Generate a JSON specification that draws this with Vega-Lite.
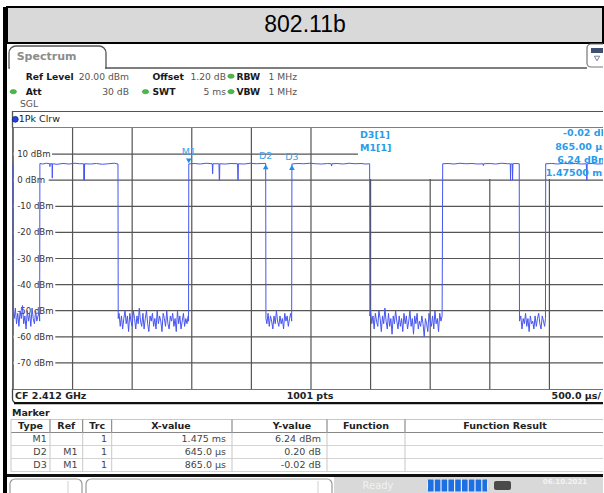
{
"$schema": "https://vega.github.io/schema/vega-lite/v6.json",
"background": "white",
"padding": {"left": 3, "top": 6, "right": 0, "bottom": 0},
"bounds": "flush",
"spacing": 0,
"config": {"view": {"stroke": null}, "axis": {"disable": true}, "font": "DejaVu Sans", "text": {"fontSize": 9.5}, "concat": {"spacing": 0}},
"datasets": {
"trace": [
{"t":0,"v":6.3},{"t":4,"v":-51},
{"t":10,"v":-53},{"t":20,"v":-49},{"t":30,"v":-55},{"t":40,"v":-51},{"t":50,"v":-56},{"t":60,"v":-50},{"t":70,"v":-53},{"t":80,"v":-48},{"t":90,"v":-55},{"t":100,"v":-52},{"t":110,"v":-57},{"t":120,"v":-50},{"t":130,"v":-54},{"t":140,"v":-51},{"t":150,"v":-56},{"t":160,"v":-49},{"t":170,"v":-53},{"t":180,"v":-55},{"t":190,"v":-50},{"t":200,"v":-54},{"t":210,"v":-52},{"t":220,"v":-51},{"t":224,"v":-54},
{"t":226,"v":6.4},{"t":250,"v":6.2},{"t":280,"v":6.5},{"t":308,"v":6.3},{"t":310,"v":5.2},{"t":312,"v":6.3},{"t":328,"v":6.3},{"t":330,"v":0.8},{"t":332,"v":6.3},{"t":370,"v":6.1},{"t":420,"v":6.4},{"t":470,"v":6.2},{"t":520,"v":6.5},{"t":560,"v":6.3},{"t":594,"v":6.3},{"t":596,"v":0.0},{"t":598,"v":6.2},{"t":599,"v":0.1},{"t":601,"v":6.3},{"t":650,"v":6.2},{"t":700,"v":6.4},{"t":750,"v":6.1},{"t":800,"v":6.3},{"t":850,"v":6.5},{"t":881,"v":6.2},
{"t":883,"v":-53},{"t":890,"v":-51},{"t":900,"v":-56},{"t":910,"v":-52},{"t":920,"v":-57},{"t":930,"v":-53},{"t":940,"v":-50},{"t":950,"v":-55},{"t":960,"v":-52},{"t":970,"v":-58},{"t":980,"v":-51},{"t":990,"v":-54},{"t":1000,"v":-56},{"t":1010,"v":-50},{"t":1020,"v":-53},{"t":1030,"v":-57},{"t":1040,"v":-52},{"t":1050,"v":-55},{"t":1060,"v":-49},{"t":1070,"v":-54},{"t":1080,"v":-56},{"t":1090,"v":-51},{"t":1100,"v":-57},{"t":1110,"v":-53},{"t":1120,"v":-50},{"t":1130,"v":-55},{"t":1140,"v":-58},{"t":1150,"v":-52},{"t":1160,"v":-54},{"t":1170,"v":-51},{"t":1180,"v":-56},{"t":1190,"v":-53},{"t":1200,"v":-57},{"t":1210,"v":-50},{"t":1220,"v":-55},{"t":1230,"v":-52},{"t":1240,"v":-54},{"t":1250,"v":-58},{"t":1260,"v":-51},{"t":1270,"v":-53},{"t":1280,"v":-56},{"t":1290,"v":-50},{"t":1300,"v":-55},{"t":1310,"v":-57},{"t":1320,"v":-52},{"t":1330,"v":-54},{"t":1340,"v":-51},{"t":1350,"v":-56},{"t":1360,"v":-53},{"t":1370,"v":-58},{"t":1380,"v":-50},{"t":1390,"v":-55},{"t":1400,"v":-52},{"t":1410,"v":-57},{"t":1420,"v":-54},{"t":1430,"v":-51},{"t":1440,"v":-56},{"t":1450,"v":-53},{"t":1460,"v":-55},{"t":1470,"v":-52},{"t":1473,"v":-54},
{"t":1475,"v":6.24},{"t":1520,"v":6.4},{"t":1570,"v":6.2},{"t":1620,"v":6.5},{"t":1672,"v":6.3},{"t":1675,"v":2.5},{"t":1678,"v":6.3},{"t":1728,"v":6.3},{"t":1731,"v":0.0},{"t":1733,"v":0.1},{"t":1735,"v":6.3},{"t":1780,"v":6.2},{"t":1830,"v":6.4},{"t":1884,"v":6.3},{"t":1887,"v":0.0},{"t":1889,"v":0.1},{"t":1891,"v":6.3},{"t":1940,"v":6.2},{"t":1990,"v":6.5},{"t":2040,"v":6.3},{"t":2090,"v":6.4},{"t":2120,"v":6.44},
{"t":2122,"v":-53},{"t":2130,"v":-55},{"t":2140,"v":-51},{"t":2150,"v":-56},{"t":2160,"v":-52},{"t":2170,"v":-54},{"t":2180,"v":-57},{"t":2190,"v":-52},{"t":2200,"v":-55},{"t":2210,"v":-50},{"t":2220,"v":-54},{"t":2230,"v":-56},{"t":2240,"v":-52},{"t":2250,"v":-55},{"t":2260,"v":-53},{"t":2270,"v":-57},{"t":2280,"v":-51},{"t":2290,"v":-54},{"t":2300,"v":-52},{"t":2310,"v":-56},{"t":2320,"v":-53},{"t":2330,"v":-51},{"t":2338,"v":-54},
{"t":2340,"v":6.22},{"t":2390,"v":6.4},{"t":2440,"v":6.3},{"t":2490,"v":6.5},{"t":2540,"v":6.3},{"t":2590,"v":6.2},{"t":2640,"v":6.4},{"t":2670,"v":6.3},{"t":2673,"v":5.4},{"t":2676,"v":6.3},{"t":2720,"v":6.4},{"t":2770,"v":6.2},{"t":2820,"v":6.5},{"t":2870,"v":6.3},{"t":2920,"v":6.4},{"t":2960,"v":6.2},{"t":2992,"v":6.3},
{"t":2994,"v":-52},{"t":3000,"v":-50},{"t":3010,"v":-55},{"t":3020,"v":-52},{"t":3030,"v":-57},{"t":3040,"v":-51},{"t":3050,"v":-54},{"t":3060,"v":-56},{"t":3070,"v":-50},{"t":3080,"v":-53},{"t":3090,"v":-58},{"t":3100,"v":-52},{"t":3110,"v":-55},{"t":3120,"v":-49},{"t":3130,"v":-54},{"t":3140,"v":-57},{"t":3150,"v":-51},{"t":3160,"v":-56},{"t":3170,"v":-53},{"t":3180,"v":-59},{"t":3190,"v":-52},{"t":3200,"v":-55},{"t":3210,"v":-50},{"t":3220,"v":-54},{"t":3230,"v":-57},{"t":3240,"v":-52},{"t":3250,"v":-56},{"t":3260,"v":-53},{"t":3270,"v":-58},{"t":3280,"v":-51},{"t":3290,"v":-55},{"t":3300,"v":-52},{"t":3310,"v":-57},{"t":3320,"v":-54},{"t":3330,"v":-50},{"t":3340,"v":-56},{"t":3350,"v":-53},{"t":3360,"v":-59},{"t":3370,"v":-52},{"t":3380,"v":-55},{"t":3390,"v":-51},{"t":3400,"v":-57},{"t":3410,"v":-54},{"t":3420,"v":-56},{"t":3430,"v":-52},{"t":3440,"v":-55},{"t":3450,"v":-60},{"t":3460,"v":-53},{"t":3470,"v":-55},{"t":3480,"v":-58},{"t":3490,"v":-51},{"t":3500,"v":-54},{"t":3510,"v":-56},{"t":3520,"v":-52},{"t":3530,"v":-57},{"t":3540,"v":-50},{"t":3550,"v":-55},{"t":3560,"v":-53},{"t":3570,"v":-58},{"t":3580,"v":-51},{"t":3590,"v":-54},{"t":3600,"v":-52},
{"t":3605,"v":6.3},{"t":3650,"v":6.4},{"t":3700,"v":6.2},{"t":3750,"v":6.5},{"t":3800,"v":6.3},{"t":3850,"v":6.4},{"t":3900,"v":6.2},{"t":3943,"v":6.3},{"t":3946,"v":5.6},{"t":3949,"v":6.3},{"t":4000,"v":6.4},{"t":4050,"v":6.2},{"t":4100,"v":6.5},{"t":4150,"v":6.3},{"t":4172,"v":6.3},{"t":4174,"v":0.0},{"t":4177,"v":6.2},{"t":4189,"v":6.3},{"t":4191,"v":0.0},{"t":4194,"v":6.3},{"t":4220,"v":6.4},{"t":4247,"v":6.3},
{"t":4249,"v":-54},{"t":4260,"v":-52},{"t":4270,"v":-57},{"t":4280,"v":-53},{"t":4290,"v":-55},{"t":4300,"v":-51},{"t":4310,"v":-56},{"t":4320,"v":-53},{"t":4330,"v":-58},{"t":4340,"v":-52},{"t":4350,"v":-55},{"t":4360,"v":-54},{"t":4370,"v":-57},{"t":4380,"v":-52},{"t":4390,"v":-56},{"t":4400,"v":-53},{"t":4410,"v":-51},{"t":4420,"v":-55},{"t":4430,"v":-57},{"t":4440,"v":-52},{"t":4450,"v":-54},{"t":4460,"v":-56},{"t":4467,"v":-53},
{"t":4469,"v":6.3},{"t":4520,"v":6.4},{"t":4570,"v":6.2},{"t":4620,"v":6.5},{"t":4670,"v":6.3},{"t":4720,"v":6.4},{"t":4770,"v":6.2},{"t":4810,"v":6.3},{"t":4813,"v":0.0},{"t":4815,"v":0.1},{"t":4817,"v":6.3},{"t":4860,"v":6.4},{"t":4900,"v":6.2},{"t":4950,"v":6.3},{"t":5000,"v":6.3}
],
"levels": [
{"level":10,"label":"10 dBm"},{"level":0,"label":"0 dBm"},{"level":-10,"label":"-10 dBm"},{"level":-20,"label":"-20 dBm"},{"level":-30,"label":"-30 dBm"},{"level":-40,"label":"-40 dBm"},{"level":-50,"label":"-50 dBm"},{"level":-60,"label":"-60 dBm"},{"level":-70,"label":"-70 dBm"}
],
"markers": [
{"name":"M1","t":1475,"v":6.24},{"name":"D2","t":2120,"v":6.44},{"name":"D3","t":2340,"v":6.22}
],
"tbl": [
{"row":"hdr","type":"Type","ref":"Ref","trc":"Trc","xv":"X-value","yv":"Y-value","fn":"Function","fres":"Function Result"},
{"row":"M1","type":"M1","ref":"","trc":"1","xv":"1.475 ms","yv":"6.24 dBm","fn":"","fres":""},
{"row":"D2","type":"D2","ref":"M1","trc":"1","xv":"645.0 µs","yv":"0.20 dB","fn":"","fres":""},
{"row":"D3","type":"D3","ref":"M1","trc":"1","xv":"865.0 µs","yv":"-0.02 dB","fn":"","fres":""}
]
},
"hconcat": [
{"width": 4, "height": 487, "view": {"fill": "#000"}, "data": {"values": [{}]}, "mark": {"type": "text", "text": ""}},
{"spacing": 0, "bounds": "flush", "vconcat": [
{"width": 596, "height": 36, "view": {"fill": "#d9d9d9", "stroke": "#000", "strokeWidth": 2},
 "data": {"values": [{"title": "802.11b"}]},
 "mark": {"type": "text", "font": "Liberation Sans", "fontSize": 23, "fill": "#000"},
 "encoding": {"text": {"field": "title"}}},
{"width": 596, "height": 68, "data": {"values": [{}]}, "layer": [
 {"mark": {"type": "rect", "fill": "#fff", "stroke": "#555", "strokeWidth": 1.3, "cornerRadiusTopLeft": 7, "cornerRadiusTopRight": 7},
  "encoding": {"x": {"datum": 9, "type": "quantitative", "scale": {"domain": [7, 603], "zero": false, "nice": false}}, "x2": {"datum": 106},
   "y": {"datum": 45, "type": "quantitative", "scale": {"domain": [110, 42], "zero": false, "nice": false}}, "y2": {"datum": 67}}},
 {"mark": {"type": "rule", "stroke": "#fff", "strokeWidth": 2.5},
  "encoding": {"x": {"datum": 9.9, "type": "quantitative", "scale": {"domain": [7, 603], "zero": false, "nice": false}}, "x2": {"datum": 105.1},
   "y": {"datum": 67, "type": "quantitative", "scale": {"domain": [110, 42], "zero": false, "nice": false}}}},
 {"mark": {"type": "rule", "stroke": "#555", "strokeWidth": 1.3},
  "encoding": {"x": {"datum": 105.4, "type": "quantitative", "scale": {"domain": [7, 603], "zero": false, "nice": false}}, "x2": {"datum": 587},
   "y": {"datum": 67, "type": "quantitative", "scale": {"domain": [110, 42], "zero": false, "nice": false}}}},
 {"mark": {"type": "rect", "fill": "#fff", "stroke": "#777", "strokeWidth": 1.2, "cornerRadius": 4, "clip": true},
  "encoding": {"x": {"datum": 587, "type": "quantitative", "scale": {"domain": [7, 603], "zero": false, "nice": false}}, "x2": {"datum": 612},
   "y": {"datum": 43, "type": "quantitative", "scale": {"domain": [110, 42], "zero": false, "nice": false}}, "y2": {"datum": 66}}},
 {"mark": {"type": "rect", "fill": "#3f5070", "clip": true},
  "encoding": {"x": {"datum": 591, "type": "quantitative", "scale": {"domain": [7, 603], "zero": false, "nice": false}}, "x2": {"datum": 605},
   "y": {"datum": 47, "type": "quantitative", "scale": {"domain": [110, 42], "zero": false, "nice": false}}, "y2": {"datum": 52}}},
 {"mark": {"type": "point", "shape": "triangle-down", "filled": false, "stroke": "#3f5070", "strokeWidth": 1, "size": 28},
  "encoding": {"x": {"datum": 597, "type": "quantitative", "scale": {"domain": [7, 603], "zero": false, "nice": false}},
   "y": {"datum": 57.5, "type": "quantitative", "scale": {"domain": [110, 42], "zero": false, "nice": false}}}},
 {"mark": {"type": "text", "text": "Spectrum", "align": "left", "baseline": "alphabetic", "fontSize": 11, "fontWeight": "bold", "fill": "#8c8c8c"},
  "encoding": {"x": {"datum": 16.7, "type": "quantitative", "scale": {"domain": [7, 603], "zero": false, "nice": false}},
   "y": {"datum": 59, "type": "quantitative", "scale": {"domain": [110, 42], "zero": false, "nice": false}}}},
 {"mark": {"type": "text", "text": ["Ref Level", "Att"], "align": "left", "baseline": "alphabetic", "lineHeight": 15.5, "fontSize": 9.2, "fontWeight": "bold", "fill": "#1a1a1a"},
  "encoding": {"x": {"datum": 25.7, "type": "quantitative", "scale": {"domain": [7, 603], "zero": false, "nice": false}},
   "y": {"datum": 78.5, "type": "quantitative", "scale": {"domain": [110, 42], "zero": false, "nice": false}}}},
 {"mark": {"type": "text", "text": ["20.00 dBm", "30 dB"], "align": "right", "baseline": "alphabetic", "lineHeight": 15.5, "fontSize": 9.2, "fill": "#555"},
  "encoding": {"x": {"datum": 129, "type": "quantitative", "scale": {"domain": [7, 603], "zero": false, "nice": false}},
   "y": {"datum": 78.5, "type": "quantitative", "scale": {"domain": [110, 42], "zero": false, "nice": false}}}},
 {"mark": {"type": "text", "text": ["Offset", "SWT"], "align": "left", "baseline": "alphabetic", "lineHeight": 15.5, "fontSize": 9.2, "fontWeight": "bold", "fill": "#1a1a1a"},
  "encoding": {"x": {"datum": 152.5, "type": "quantitative", "scale": {"domain": [7, 603], "zero": false, "nice": false}},
   "y": {"datum": 78.5, "type": "quantitative", "scale": {"domain": [110, 42], "zero": false, "nice": false}}}},
 {"mark": {"type": "text", "text": ["1.20 dB", "5 ms"], "align": "right", "baseline": "alphabetic", "lineHeight": 15.5, "fontSize": 9.2, "fill": "#555"},
  "encoding": {"x": {"datum": 226, "type": "quantitative", "scale": {"domain": [7, 603], "zero": false, "nice": false}},
   "y": {"datum": 78.5, "type": "quantitative", "scale": {"domain": [110, 42], "zero": false, "nice": false}}}},
 {"mark": {"type": "text", "text": ["RBW", "VBW"], "align": "left", "baseline": "alphabetic", "lineHeight": 15.5, "fontSize": 9.2, "fontWeight": "bold", "fill": "#1a1a1a"},
  "encoding": {"x": {"datum": 236.5, "type": "quantitative", "scale": {"domain": [7, 603], "zero": false, "nice": false}},
   "y": {"datum": 78.5, "type": "quantitative", "scale": {"domain": [110, 42], "zero": false, "nice": false}}}},
 {"mark": {"type": "text", "text": ["1 MHz", "1 MHz"], "align": "right", "baseline": "alphabetic", "lineHeight": 15.5, "fontSize": 9.2, "fill": "#555"},
  "encoding": {"x": {"datum": 297, "type": "quantitative", "scale": {"domain": [7, 603], "zero": false, "nice": false}},
   "y": {"datum": 78.5, "type": "quantitative", "scale": {"domain": [110, 42], "zero": false, "nice": false}}}},
 {"mark": {"type": "text", "text": "SGL", "align": "left", "baseline": "alphabetic", "fontSize": 9.2, "fill": "#555"},
  "encoding": {"x": {"datum": 20, "type": "quantitative", "scale": {"domain": [7, 603], "zero": false, "nice": false}},
   "y": {"datum": 106, "type": "quantitative", "scale": {"domain": [110, 42], "zero": false, "nice": false}}}},
 {"mark": {"type": "point", "shape": "M-1,0A1,0.65,0,1,1,1,0A1,0.65,0,1,1,-1,0Z", "filled": true, "fill": "#4cb84c", "stroke": "#2e8a2e", "strokeWidth": 0.5, "size": 42, "opacity": 1},
  "encoding": {"x": {"datum": 13.3, "type": "quantitative", "scale": {"domain": [7, 603], "zero": false, "nice": false}},
   "y": {"datum": 90.7, "type": "quantitative", "scale": {"domain": [110, 42], "zero": false, "nice": false}}}},
 {"mark": {"type": "point", "shape": "M-1,0A1,0.65,0,1,1,1,0A1,0.65,0,1,1,-1,0Z", "filled": true, "fill": "#4cb84c", "stroke": "#2e8a2e", "strokeWidth": 0.5, "size": 42, "opacity": 1},
  "encoding": {"x": {"datum": 145.5, "type": "quantitative", "scale": {"domain": [7, 603], "zero": false, "nice": false}},
   "y": {"datum": 90.7, "type": "quantitative", "scale": {"domain": [110, 42], "zero": false, "nice": false}}}},
 {"mark": {"type": "point", "shape": "M-1,0A1,0.65,0,1,1,1,0A1,0.65,0,1,1,-1,0Z", "filled": true, "fill": "#4cb84c", "stroke": "#2e8a2e", "strokeWidth": 0.5, "size": 42, "opacity": 1},
  "encoding": {"x": {"datum": 231, "type": "quantitative", "scale": {"domain": [7, 603], "zero": false, "nice": false}},
   "y": {"datum": 75.2, "type": "quantitative", "scale": {"domain": [110, 42], "zero": false, "nice": false}}}},
 {"mark": {"type": "point", "shape": "M-1,0A1,0.65,0,1,1,1,0A1,0.65,0,1,1,-1,0Z", "filled": true, "fill": "#4cb84c", "stroke": "#2e8a2e", "strokeWidth": 0.5, "size": 42, "opacity": 1},
  "encoding": {"x": {"datum": 231, "type": "quantitative", "scale": {"domain": [7, 603], "zero": false, "nice": false}},
   "y": {"datum": 90.7, "type": "quantitative", "scale": {"domain": [110, 42], "zero": false, "nice": false}}}}
]},
{"width": 596, "height": 17, "data": {"values": [{}]}, "layer": [
 {"mark": {"type": "rect", "fill": "#fff", "stroke": "#555", "strokeWidth": 1.3, "clip": true},
  "encoding": {"x": {"datum": 12.5, "type": "quantitative", "scale": {"domain": [7, 603], "zero": false, "nice": false}}, "x2": {"datum": 612},
   "y": {"datum": 110.3, "type": "quantitative", "scale": {"domain": [127, 110], "zero": false, "nice": false}}, "y2": {"datum": 127}}},
 {"mark": {"type": "point", "shape": "circle", "filled": true, "fill": "#2840e0", "stroke": "#10208a", "strokeWidth": 0.8, "size": 34, "opacity": 1},
  "encoding": {"x": {"datum": 15.3, "type": "quantitative", "scale": {"domain": [7, 603], "zero": false, "nice": false}},
   "y": {"datum": 118.3, "type": "quantitative", "scale": {"domain": [127, 110], "zero": false, "nice": false}}}},
 {"mark": {"type": "text", "text": "1Pk Clrw", "align": "left", "baseline": "middle", "fill": "#222"},
  "encoding": {"x": {"datum": 18.8, "type": "quantitative", "scale": {"domain": [7, 603], "zero": false, "nice": false}},
   "y": {"datum": 118.3, "type": "quantitative", "scale": {"domain": [127, 110], "zero": false, "nice": false}}}}
]},
{"width": 596, "height": 261, "layer": [
 {"data": {"values": [{"t":0},{"t":500},{"t":1000},{"t":1500},{"t":2000},{"t":2500},{"t":3000},{"t":3500},{"t":4000},{"t":4500}]},
  "mark": {"type": "rule", "stroke": "#555", "strokeWidth": 1.2},
  "encoding": {"x": {"field": "t", "type": "quantitative", "scale": {"domain": [-50, 4949.6], "zero": false, "nice": false}, "axis": null}}},
 {"data": {"name": "levels"},
  "mark": {"type": "rule", "stroke": "#555", "strokeWidth": 1.2},
  "encoding": {"x": {"datum": 0, "type": "quantitative", "scale": {"domain": [-50, 4949.6], "zero": false, "nice": false}}, "x2": {"datum": 4949.6},
   "y": {"field": "level", "type": "quantitative", "scale": {"domain": [-80, 20], "zero": false, "nice": false}, "axis": null}}},
 {"data": {"values": [{}]},
  "mark": {"type": "rect", "fill": "#fff"},
  "encoding": {"x": {"datum": 2894, "type": "quantitative", "scale": {"domain": [-50, 4949.6], "zero": false, "nice": false}}, "x2": {"datum": 4949.6},
   "y": {"datum": 20, "type": "quantitative", "scale": {"domain": [-80, 20], "zero": false, "nice": false}}, "y2": {"datum": 0.5}}},
 {"data": {"name": "levels"}, "transform": [{"filter": "datum.level === 10"}],
  "mark": {"type": "rule", "stroke": "#fff", "strokeWidth": 3},
  "encoding": {"x": {"datum": 0, "type": "quantitative", "scale": {"domain": [-50, 4949.6], "zero": false, "nice": false}}, "x2": {"datum": 328},
   "y": {"field": "level", "type": "quantitative", "scale": {"domain": [-80, 20], "zero": false, "nice": false}}}},
 {"data": {"name": "levels"}, "transform": [{"filter": "datum.level === 0"}],
  "mark": {"type": "rule", "stroke": "#fff", "strokeWidth": 3},
  "encoding": {"x": {"datum": 0, "type": "quantitative", "scale": {"domain": [-50, 4949.6], "zero": false, "nice": false}}, "x2": {"datum": 300},
   "y": {"field": "level", "type": "quantitative", "scale": {"domain": [-80, 20], "zero": false, "nice": false}}}},
 {"data": {"name": "levels"}, "transform": [{"filter": "datum.level < 0"}],
  "mark": {"type": "rule", "stroke": "#fff", "strokeWidth": 3},
  "encoding": {"x": {"datum": 0, "type": "quantitative", "scale": {"domain": [-50, 4949.6], "zero": false, "nice": false}}, "x2": {"datum": 355},
   "y": {"field": "level", "type": "quantitative", "scale": {"domain": [-80, 20], "zero": false, "nice": false}}}},
 {"data": {"values": [{"t":0}]},
  "mark": {"type": "rule", "stroke": "#555", "strokeWidth": 1.2},
  "encoding": {"x": {"field": "t", "type": "quantitative", "scale": {"domain": [-50, 4949.6], "zero": false, "nice": false}}}},
 {"data": {"name": "levels"},
  "mark": {"type": "text", "align": "left", "baseline": "middle", "fontSize": 8.6, "fill": "#333"},
  "encoding": {"x": {"datum": 35, "type": "quantitative", "scale": {"domain": [-50, 4949.6], "zero": false, "nice": false}},
   "y": {"field": "level", "type": "quantitative", "scale": {"domain": [-80, 20], "zero": false, "nice": false}}, "text": {"field": "label"}}},
 {"data": {"name": "trace"},
  "mark": {"type": "line", "stroke": "#4756f0", "strokeWidth": 1, "clip": true},
  "encoding": {"x": {"field": "t", "type": "quantitative", "scale": {"domain": [-50, 4949.6], "zero": false, "nice": false}},
   "y": {"field": "v", "type": "quantitative", "scale": {"domain": [-80, 20], "zero": false, "nice": false}}}},
 {"data": {"name": "markers"}, "transform": [{"filter": "datum.name === 'M1'"}],
  "mark": {"type": "point", "shape": "triangle-down", "filled": true, "color": "#1e8ee6", "size": 32, "opacity": 1, "yOffset": -3},
  "encoding": {"x": {"field": "t", "type": "quantitative", "scale": {"domain": [-50, 4949.6], "zero": false, "nice": false}},
   "y": {"field": "v", "type": "quantitative", "scale": {"domain": [-80, 20], "zero": false, "nice": false}}}},
 {"data": {"name": "markers"}, "transform": [{"filter": "datum.name !== 'M1'"}],
  "mark": {"type": "point", "shape": "triangle-up", "filled": true, "color": "#1e8ee6", "size": 32, "opacity": 1, "yOffset": 3.5},
  "encoding": {"x": {"field": "t", "type": "quantitative", "scale": {"domain": [-50, 4949.6], "zero": false, "nice": false}},
   "y": {"field": "v", "type": "quantitative", "scale": {"domain": [-80, 20], "zero": false, "nice": false}}}},
 {"data": {"name": "markers"}, "transform": [{"filter": "datum.name === 'M1'"}],
  "mark": {"type": "text", "fontSize": 9.5, "fill": "#3aa3ea", "yOffset": -12},
  "encoding": {"x": {"field": "t", "type": "quantitative", "scale": {"domain": [-50, 4949.6], "zero": false, "nice": false}},
   "y": {"field": "v", "type": "quantitative", "scale": {"domain": [-80, 20], "zero": false, "nice": false}}, "text": {"field": "name"}}},
 {"data": {"name": "markers"}, "transform": [{"filter": "datum.name !== 'M1'"}],
  "mark": {"type": "text", "fontSize": 9.5, "fill": "#3aa3ea", "yOffset": -7},
  "encoding": {"x": {"field": "t", "type": "quantitative", "scale": {"domain": [-50, 4949.6], "zero": false, "nice": false}},
   "y": {"field": "v", "type": "quantitative", "scale": {"domain": [-80, 20], "zero": false, "nice": false}}, "text": {"field": "name"}}},
 {"data": {"values": [{"s": ["D3[1]", "", "M1[1]"]}]},
  "mark": {"type": "text", "align": "left", "baseline": "alphabetic", "lineHeight": 13.1, "fontWeight": "bold", "fill": "#2a9bea"},
  "encoding": {"x": {"datum": 2911, "type": "quantitative", "scale": {"domain": [-50, 4949.6], "zero": false, "nice": false}},
   "y": {"datum": 16.2, "type": "quantitative", "scale": {"domain": [-80, 20], "zero": false, "nice": false}}, "text": {"field": "s"}}},
 {"data": {"values": [{"s": ["-0.02 dB", "865.00 µs", "6.24 dBm", "1.47500 ms"]}]},
  "mark": {"type": "text", "align": "right", "baseline": "alphabetic", "lineHeight": 13.33, "fontWeight": "bold", "fill": "#2a9bea", "clip": true},
  "encoding": {"x": {"datum": 4990, "type": "quantitative", "scale": {"domain": [-50, 4949.6], "zero": false, "nice": false}},
   "y": {"datum": 16.82, "type": "quantitative", "scale": {"domain": [-80, 20], "zero": false, "nice": false}}, "text": {"field": "s"}}}
]},
{"width": 596, "height": 15, "data": {"values": [{}]}, "layer": [
 {"mark": {"type": "rect", "fill": "#fff", "stroke": "#444", "strokeWidth": 1.3, "cornerRadiusBottomLeft": 4, "clip": true},
  "encoding": {"x": {"datum": 12.5, "type": "quantitative", "scale": {"domain": [7, 603], "zero": false, "nice": false}}, "x2": {"datum": 612},
   "y": {"datum": 388, "type": "quantitative", "scale": {"domain": [403, 388], "zero": false, "nice": false}}, "y2": {"datum": 402}}},
 {"mark": {"type": "rule", "stroke": "#111", "strokeWidth": 2.2},
  "encoding": {"x": {"datum": 14, "type": "quantitative", "scale": {"domain": [7, 603], "zero": false, "nice": false}}, "x2": {"datum": 603},
   "y": {"datum": 402.2, "type": "quantitative", "scale": {"domain": [403, 388], "zero": false, "nice": false}}}},
 {"mark": {"type": "text", "text": "CF 2.412 GHz", "align": "left", "baseline": "middle", "fontWeight": "bold", "fill": "#222"},
  "encoding": {"x": {"datum": 15, "type": "quantitative", "scale": {"domain": [7, 603], "zero": false, "nice": false}},
   "y": {"datum": 395.3, "type": "quantitative", "scale": {"domain": [403, 388], "zero": false, "nice": false}}}},
 {"mark": {"type": "text", "text": "1001 pts", "align": "center", "baseline": "middle", "fontWeight": "bold", "fill": "#222"},
  "encoding": {"x": {"datum": 310, "type": "quantitative", "scale": {"domain": [7, 603], "zero": false, "nice": false}},
   "y": {"datum": 395.3, "type": "quantitative", "scale": {"domain": [403, 388], "zero": false, "nice": false}}}},
 {"mark": {"type": "text", "text": "500.0 µs/", "align": "right", "baseline": "middle", "fontWeight": "bold", "fill": "#222"},
  "encoding": {"x": {"datum": 601, "type": "quantitative", "scale": {"domain": [7, 603], "zero": false, "nice": false}},
   "y": {"datum": 395.3, "type": "quantitative", "scale": {"domain": [403, 388], "zero": false, "nice": false}}}}
]},
{"width": 596, "height": 70, "layer": [
 {"data": {"values": [{}]},
  "mark": {"type": "text", "text": "Marker", "align": "left", "baseline": "middle", "fontWeight": "bold", "fill": "#222"},
  "encoding": {"x": {"datum": 12, "type": "quantitative", "scale": {"domain": [7, 603], "zero": false, "nice": false}},
   "y": {"datum": "ttl", "type": "nominal", "scale": {"type": "band", "domain": ["ttl", "hdr", "M1", "D2", "D3"], "range": [2.5, 67.5], "paddingInner": 0, "paddingOuter": 0}}}},
 {"data": {"values": [{}]},
  "mark": {"type": "rule", "stroke": "#c8c8c8"},
  "encoding": {"x": {"datum": 11, "type": "quantitative", "scale": {"domain": [7, 603], "zero": false, "nice": false}}, "x2": {"datum": 603},
   "y": {"datum": "hdr", "type": "nominal", "bandPosition": 0, "scale": {"type": "band", "domain": ["ttl", "hdr", "M1", "D2", "D3"], "range": [2.5, 67.5], "paddingInner": 0, "paddingOuter": 0}}}},
 {"data": {"name": "tbl"},
  "mark": {"type": "rule"},
  "encoding": {"x": {"datum": 11, "type": "quantitative", "scale": {"domain": [7, 603], "zero": false, "nice": false}}, "x2": {"datum": 603},
   "y": {"field": "row", "type": "nominal", "bandPosition": 1, "scale": {"type": "band", "domain": ["ttl", "hdr", "M1", "D2", "D3"], "range": [2.5, 67.5], "paddingInner": 0, "paddingOuter": 0}},
   "color": {"condition": {"test": "datum.row === 'hdr'", "value": "#888"}, "value": "#d4d4d4"}}},
 {"data": {"name": "tbl"}, "mark": {"type": "rect"},
  "encoding": {"x": {"datum": 10.5, "type": "quantitative", "scale": {"domain": [7, 603], "zero": false, "nice": false}}, "x2": {"datum": 11.5},
   "y": {"field": "row", "type": "nominal", "scale": {"type": "band", "domain": ["ttl", "hdr", "M1", "D2", "D3"], "range": [2.5, 67.5], "paddingInner": 0, "paddingOuter": 0}},
   "color": {"value": "#c8c8c8"}}},
 {"data": {"name": "tbl"}, "mark": {"type": "rect"},
  "encoding": {"x": {"datum": 49.5, "type": "quantitative", "scale": {"domain": [7, 603], "zero": false, "nice": false}}, "x2": {"datum": 50.5},
   "y": {"field": "row", "type": "nominal", "scale": {"type": "band", "domain": ["ttl", "hdr", "M1", "D2", "D3"], "range": [2.5, 67.5], "paddingInner": 0, "paddingOuter": 0}},
   "color": {"condition": {"test": "datum.row === 'hdr'", "value": "#777"}, "value": "#c8c8c8"}}},
 {"data": {"name": "tbl"}, "mark": {"type": "rect"},
  "encoding": {"x": {"datum": 82.2, "type": "quantitative", "scale": {"domain": [7, 603], "zero": false, "nice": false}}, "x2": {"datum": 83.2},
   "y": {"field": "row", "type": "nominal", "scale": {"type": "band", "domain": ["ttl", "hdr", "M1", "D2", "D3"], "range": [2.5, 67.5], "paddingInner": 0, "paddingOuter": 0}},
   "color": {"condition": {"test": "datum.row === 'hdr'", "value": "#777"}, "value": "#c8c8c8"}}},
 {"data": {"name": "tbl"}, "mark": {"type": "rect"},
  "encoding": {"x": {"datum": 111.2, "type": "quantitative", "scale": {"domain": [7, 603], "zero": false, "nice": false}}, "x2": {"datum": 112.2},
   "y": {"field": "row", "type": "nominal", "scale": {"type": "band", "domain": ["ttl", "hdr", "M1", "D2", "D3"], "range": [2.5, 67.5], "paddingInner": 0, "paddingOuter": 0}},
   "color": {"condition": {"test": "datum.row === 'hdr'", "value": "#777"}, "value": "#c8c8c8"}}},
 {"data": {"name": "tbl"}, "mark": {"type": "rect"},
  "encoding": {"x": {"datum": 231.5, "type": "quantitative", "scale": {"domain": [7, 603], "zero": false, "nice": false}}, "x2": {"datum": 232.5},
   "y": {"field": "row", "type": "nominal", "scale": {"type": "band", "domain": ["ttl", "hdr", "M1", "D2", "D3"], "range": [2.5, 67.5], "paddingInner": 0, "paddingOuter": 0}},
   "color": {"condition": {"test": "datum.row === 'hdr'", "value": "#777"}, "value": "#c8c8c8"}}},
 {"data": {"name": "tbl"}, "mark": {"type": "rect"},
  "encoding": {"x": {"datum": 326.5, "type": "quantitative", "scale": {"domain": [7, 603], "zero": false, "nice": false}}, "x2": {"datum": 327.5},
   "y": {"field": "row", "type": "nominal", "scale": {"type": "band", "domain": ["ttl", "hdr", "M1", "D2", "D3"], "range": [2.5, 67.5], "paddingInner": 0, "paddingOuter": 0}},
   "color": {"condition": {"test": "datum.row === 'hdr'", "value": "#777"}, "value": "#c8c8c8"}}},
 {"data": {"name": "tbl"}, "mark": {"type": "rect"},
  "encoding": {"x": {"datum": 404.5, "type": "quantitative", "scale": {"domain": [7, 603], "zero": false, "nice": false}}, "x2": {"datum": 405.5},
   "y": {"field": "row", "type": "nominal", "scale": {"type": "band", "domain": ["ttl", "hdr", "M1", "D2", "D3"], "range": [2.5, 67.5], "paddingInner": 0, "paddingOuter": 0}},
   "color": {"condition": {"test": "datum.row === 'hdr'", "value": "#777"}, "value": "#c8c8c8"}}},
 {"data": {"name": "tbl"}, "transform": [{"filter": "datum.row === 'hdr'"}],
  "mark": {"type": "text", "align": "center", "baseline": "middle", "fontWeight": "bold", "fill": "#222"},
  "encoding": {"x": {"datum": 30.5, "type": "quantitative", "scale": {"domain": [7, 603], "zero": false, "nice": false}},
   "y": {"field": "row", "type": "nominal", "scale": {"type": "band", "domain": ["ttl", "hdr", "M1", "D2", "D3"], "range": [2.5, 67.5], "paddingInner": 0, "paddingOuter": 0}}, "text": {"field": "type"}}},
 {"data": {"name": "tbl"}, "transform": [{"filter": "datum.row === 'hdr'"}],
  "mark": {"type": "text", "align": "center", "baseline": "middle", "fontWeight": "bold", "fill": "#222"},
  "encoding": {"x": {"datum": 66.3, "type": "quantitative", "scale": {"domain": [7, 603], "zero": false, "nice": false}},
   "y": {"field": "row", "type": "nominal", "scale": {"type": "band", "domain": ["ttl", "hdr", "M1", "D2", "D3"], "range": [2.5, 67.5], "paddingInner": 0, "paddingOuter": 0}}, "text": {"field": "ref"}}},
 {"data": {"name": "tbl"}, "transform": [{"filter": "datum.row === 'hdr'"}],
  "mark": {"type": "text", "align": "center", "baseline": "middle", "fontWeight": "bold", "fill": "#222"},
  "encoding": {"x": {"datum": 97.2, "type": "quantitative", "scale": {"domain": [7, 603], "zero": false, "nice": false}},
   "y": {"field": "row", "type": "nominal", "scale": {"type": "band", "domain": ["ttl", "hdr", "M1", "D2", "D3"], "range": [2.5, 67.5], "paddingInner": 0, "paddingOuter": 0}}, "text": {"field": "trc"}}},
 {"data": {"name": "tbl"}, "transform": [{"filter": "datum.row === 'hdr'"}],
  "mark": {"type": "text", "align": "center", "baseline": "middle", "fontWeight": "bold", "fill": "#222"},
  "encoding": {"x": {"datum": 171, "type": "quantitative", "scale": {"domain": [7, 603], "zero": false, "nice": false}},
   "y": {"field": "row", "type": "nominal", "scale": {"type": "band", "domain": ["ttl", "hdr", "M1", "D2", "D3"], "range": [2.5, 67.5], "paddingInner": 0, "paddingOuter": 0}}, "text": {"field": "xv"}}},
 {"data": {"name": "tbl"}, "transform": [{"filter": "datum.row === 'hdr'"}],
  "mark": {"type": "text", "align": "center", "baseline": "middle", "fontWeight": "bold", "fill": "#222"},
  "encoding": {"x": {"datum": 292, "type": "quantitative", "scale": {"domain": [7, 603], "zero": false, "nice": false}},
   "y": {"field": "row", "type": "nominal", "scale": {"type": "band", "domain": ["ttl", "hdr", "M1", "D2", "D3"], "range": [2.5, 67.5], "paddingInner": 0, "paddingOuter": 0}}, "text": {"field": "yv"}}},
 {"data": {"name": "tbl"}, "transform": [{"filter": "datum.row === 'hdr'"}],
  "mark": {"type": "text", "align": "center", "baseline": "middle", "fontWeight": "bold", "fill": "#222"},
  "encoding": {"x": {"datum": 366, "type": "quantitative", "scale": {"domain": [7, 603], "zero": false, "nice": false}},
   "y": {"field": "row", "type": "nominal", "scale": {"type": "band", "domain": ["ttl", "hdr", "M1", "D2", "D3"], "range": [2.5, 67.5], "paddingInner": 0, "paddingOuter": 0}}, "text": {"field": "fn"}}},
 {"data": {"name": "tbl"}, "transform": [{"filter": "datum.row === 'hdr'"}],
  "mark": {"type": "text", "align": "center", "baseline": "middle", "fontWeight": "bold", "fill": "#222"},
  "encoding": {"x": {"datum": 505, "type": "quantitative", "scale": {"domain": [7, 603], "zero": false, "nice": false}},
   "y": {"field": "row", "type": "nominal", "scale": {"type": "band", "domain": ["ttl", "hdr", "M1", "D2", "D3"], "range": [2.5, 67.5], "paddingInner": 0, "paddingOuter": 0}}, "text": {"field": "fres"}}},
 {"data": {"name": "tbl"}, "transform": [{"filter": "datum.row !== 'hdr'"}],
  "mark": {"type": "text", "align": "right", "baseline": "middle", "fill": "#444"},
  "encoding": {"x": {"datum": 46.7, "type": "quantitative", "scale": {"domain": [7, 603], "zero": false, "nice": false}},
   "y": {"field": "row", "type": "nominal", "scale": {"type": "band", "domain": ["ttl", "hdr", "M1", "D2", "D3"], "range": [2.5, 67.5], "paddingInner": 0, "paddingOuter": 0}}, "text": {"field": "type"}}},
 {"data": {"name": "tbl"}, "transform": [{"filter": "datum.row !== 'hdr'"}],
  "mark": {"type": "text", "align": "right", "baseline": "middle", "fill": "#444"},
  "encoding": {"x": {"datum": 77.5, "type": "quantitative", "scale": {"domain": [7, 603], "zero": false, "nice": false}},
   "y": {"field": "row", "type": "nominal", "scale": {"type": "band", "domain": ["ttl", "hdr", "M1", "D2", "D3"], "range": [2.5, 67.5], "paddingInner": 0, "paddingOuter": 0}}, "text": {"field": "ref"}}},
 {"data": {"name": "tbl"}, "transform": [{"filter": "datum.row !== 'hdr'"}],
  "mark": {"type": "text", "align": "right", "baseline": "middle", "fill": "#444"},
  "encoding": {"x": {"datum": 107, "type": "quantitative", "scale": {"domain": [7, 603], "zero": false, "nice": false}},
   "y": {"field": "row", "type": "nominal", "scale": {"type": "band", "domain": ["ttl", "hdr", "M1", "D2", "D3"], "range": [2.5, 67.5], "paddingInner": 0, "paddingOuter": 0}}, "text": {"field": "trc"}}},
 {"data": {"name": "tbl"}, "transform": [{"filter": "datum.row !== 'hdr'"}],
  "mark": {"type": "text", "align": "right", "baseline": "middle", "fill": "#444"},
  "encoding": {"x": {"datum": 226, "type": "quantitative", "scale": {"domain": [7, 603], "zero": false, "nice": false}},
   "y": {"field": "row", "type": "nominal", "scale": {"type": "band", "domain": ["ttl", "hdr", "M1", "D2", "D3"], "range": [2.5, 67.5], "paddingInner": 0, "paddingOuter": 0}}, "text": {"field": "xv"}}},
 {"data": {"name": "tbl"}, "transform": [{"filter": "datum.row !== 'hdr'"}],
  "mark": {"type": "text", "align": "right", "baseline": "middle", "fill": "#444"},
  "encoding": {"x": {"datum": 321, "type": "quantitative", "scale": {"domain": [7, 603], "zero": false, "nice": false}},
   "y": {"field": "row", "type": "nominal", "scale": {"type": "band", "domain": ["ttl", "hdr", "M1", "D2", "D3"], "range": [2.5, 67.5], "paddingInner": 0, "paddingOuter": 0}}, "text": {"field": "yv"}}}
]},
{"width": 596, "height": 20, "data": {"values": [{}]}, "layer": [
 {"mark": {"type": "rect", "fill": "#111"},
  "encoding": {"x": {"datum": 7, "type": "quantitative", "scale": {"domain": [7, 603], "zero": false, "nice": false}}, "x2": {"datum": 603},
   "y": {"datum": 473, "type": "quantitative", "scale": {"domain": [493, 473], "zero": false, "nice": false}}, "y2": {"datum": 476}}},
 {"mark": {"type": "rect", "fill": "#d9d9d9"},
  "encoding": {"x": {"datum": 334, "type": "quantitative", "scale": {"domain": [7, 603], "zero": false, "nice": false}}, "x2": {"datum": 603},
   "y": {"datum": 476, "type": "quantitative", "scale": {"domain": [493, 473], "zero": false, "nice": false}}, "y2": {"datum": 493}}},
 {"mark": {"type": "rect", "fill": "#fff", "stroke": "#9a9a9a", "strokeWidth": 1.2, "cornerRadius": 5, "clip": true},
  "encoding": {"x": {"datum": 10, "type": "quantitative", "scale": {"domain": [7, 603], "zero": false, "nice": false}}, "x2": {"datum": 82},
   "y": {"datum": 478, "type": "quantitative", "scale": {"domain": [493, 473], "zero": false, "nice": false}}, "y2": {"datum": 500}}},
 {"mark": {"type": "rule", "stroke": "#d0d0d0"},
  "encoding": {"x": {"datum": 68, "type": "quantitative", "scale": {"domain": [7, 603], "zero": false, "nice": false}},
   "y": {"datum": 480, "type": "quantitative", "scale": {"domain": [493, 473], "zero": false, "nice": false}}, "y2": {"datum": 493}}},
 {"mark": {"type": "rect", "fill": "#fff", "stroke": "#9a9a9a", "strokeWidth": 1.2, "cornerRadius": 5, "clip": true},
  "encoding": {"x": {"datum": 86, "type": "quantitative", "scale": {"domain": [7, 603], "zero": false, "nice": false}}, "x2": {"datum": 332},
   "y": {"datum": 478, "type": "quantitative", "scale": {"domain": [493, 473], "zero": false, "nice": false}}, "y2": {"datum": 500}}},
 {"mark": {"type": "rule", "stroke": "#d0d0d0"},
  "encoding": {"x": {"datum": 318, "type": "quantitative", "scale": {"domain": [7, 603], "zero": false, "nice": false}},
   "y": {"datum": 480, "type": "quantitative", "scale": {"domain": [493, 473], "zero": false, "nice": false}}, "y2": {"datum": 493}}},
 {"mark": {"type": "text", "text": "Ready", "align": "center", "baseline": "middle", "fontSize": 10, "fill": "#f2f2f2"},
  "encoding": {"x": {"datum": 378, "type": "quantitative", "scale": {"domain": [7, 603], "zero": false, "nice": false}},
   "y": {"datum": 484.5, "type": "quantitative", "scale": {"domain": [493, 473], "zero": false, "nice": false}}}},
 {"mark": {"type": "rect", "fill": "#e8eefa", "cornerRadius": 5},
  "encoding": {"x": {"datum": 427, "type": "quantitative", "scale": {"domain": [7, 603], "zero": false, "nice": false}}, "x2": {"datum": 488},
   "y": {"datum": 478, "type": "quantitative", "scale": {"domain": [493, 473], "zero": false, "nice": false}}, "y2": {"datum": 491}}},
 {"mark": {"type": "rule", "stroke": "#1e6fe0", "strokeWidth": 12, "strokeDash": [5.6, 1.2]},
  "encoding": {"x": {"datum": 428, "type": "quantitative", "scale": {"domain": [7, 603], "zero": false, "nice": false}}, "x2": {"datum": 487},
   "y": {"datum": 484.5, "type": "quantitative", "scale": {"domain": [493, 473], "zero": false, "nice": false}}}},
 {"mark": {"type": "rect", "fill": "#4a4a4a", "cornerRadius": 2},
  "encoding": {"x": {"datum": 494, "type": "quantitative", "scale": {"domain": [7, 603], "zero": false, "nice": false}}, "x2": {"datum": 511},
   "y": {"datum": 480, "type": "quantitative", "scale": {"domain": [493, 473], "zero": false, "nice": false}}, "y2": {"datum": 489}}},
 {"mark": {"type": "text", "text": "06.10.2021", "align": "center", "baseline": "middle", "fontSize": 7, "fontWeight": "bold", "fill": "#f4f4f4"},
  "encoding": {"x": {"datum": 565, "type": "quantitative", "scale": {"domain": [7, 603], "zero": false, "nice": false}},
   "y": {"datum": 480.5, "type": "quantitative", "scale": {"domain": [493, 473], "zero": false, "nice": false}}}}
]}
]}
]
}
